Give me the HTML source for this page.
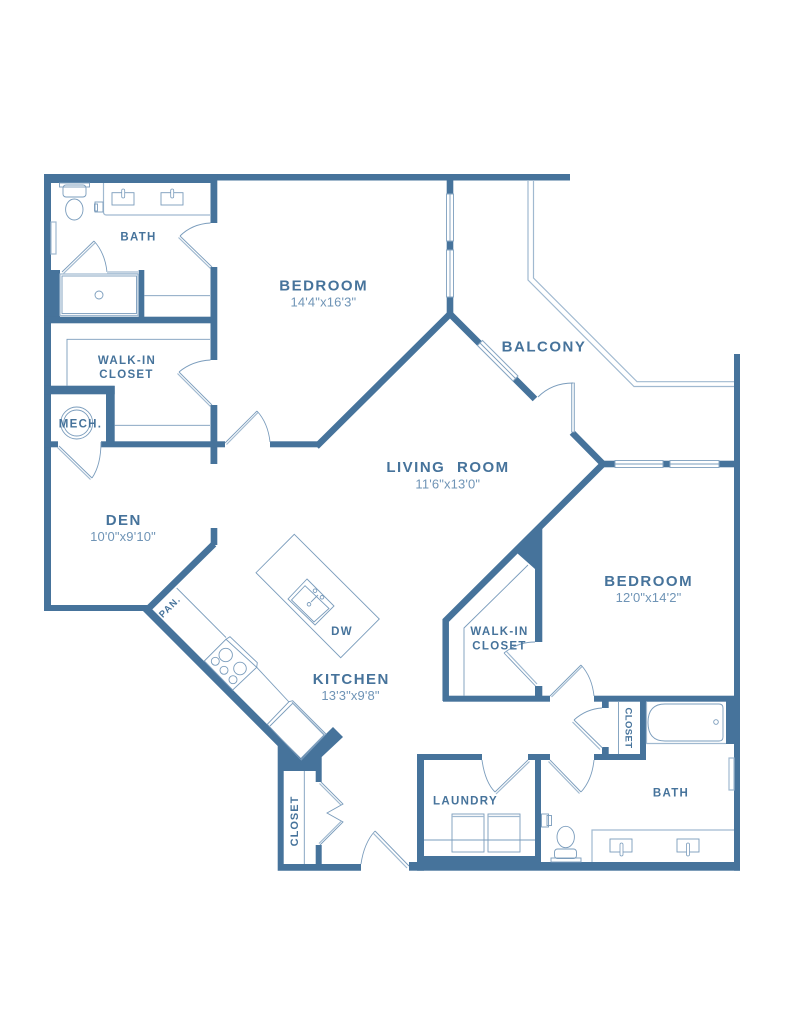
<!DOCTYPE html>
<html><head><meta charset="utf-8"><style>
html,body{margin:0;padding:0;background:#fff}
svg{display:block}
text{font-family:"Liberation Sans",sans-serif;fill:#46739b;text-anchor:middle}
.b{font-weight:bold;font-size:15px;letter-spacing:1.5px}
.s{font-weight:bold;font-size:11.5px;letter-spacing:1.3px}
.d{font-size:13px;letter-spacing:.15px;fill:#6f94b6}
.w{fill:#46739b;stroke:none}
.l{fill:none;stroke:#7a9cbc;stroke-width:.9}
.p{fill:none;stroke:#a0b9d0;stroke-width:1.2}
.dw{fill:none;stroke:#46739b;stroke-width:6.5;stroke-linecap:butt}
.win{fill:#fff;stroke:#8aa8c4;stroke-width:1}
</style></head><body>
<svg width="791" height="1024" viewBox="0 0 791 1024" xmlns="http://www.w3.org/2000/svg">
<!-- main walls -->
<rect class="w" x="44" y="174" width="526" height="6.5"/>
<rect class="w" x="44" y="174" width="173" height="9"/>
<rect class="w" x="44" y="174" width="7" height="437"/>
<rect class="w" x="44" y="605" width="106" height="6"/>
<rect class="w" x="51" y="270" width="9" height="50"/>
<rect class="w" x="44" y="316.7" width="173" height="6.6"/>
<rect class="w" x="138.7" y="270" width="5.6" height="50"/>
<rect class="w" x="210.5" y="174" width="6.8" height="49"/>
<rect class="w" x="210.5" y="267" width="6.8" height="93"/>
<rect class="w" x="210.5" y="405" width="6.8" height="59"/>
<rect class="w" x="44" y="385.7" width="70.7" height="8.6"/>
<rect class="w" x="106" y="386" width="8.7" height="61"/>
<rect class="w" x="44" y="441.3" width="14" height="6"/>
<rect class="w" x="101" y="441.3" width="124" height="6"/>
<rect class="w" x="270" y="441.3" width="49" height="6"/>
<path class="dw" d="M316.5 446.5 L450 314 L535 399"/>
<rect class="w" x="446.7" y="180" width="6.6" height="14"/>
<rect class="w" x="446.7" y="241" width="6.6" height="9"/>
<rect class="w" x="446.7" y="297" width="6.6" height="17"/>
<!-- windows -->
<rect class="win" x="446.5" y="194" width="7" height="47"/><line class="l" x1="450" y1="194" x2="450" y2="241"/>
<rect class="win" x="446.5" y="250" width="7" height="47"/><line class="l" x1="450" y1="250" x2="450" y2="297"/>
<polygon points="482.5,340.5 518,376 513,381 477.5,345.5" fill="#fff" stroke="#8aa8c4"/>
<line class="l" x1="480" y1="343" x2="515.5" y2="378.5"/>
<path class="dw" d="M572 432.5 L603 464 L445.7 620.5 L445.7 701"/>
<rect class="w" x="600" y="460.7" width="15" height="6.6"/>
<rect class="w" x="663" y="460.7" width="7" height="6.6"/>
<rect class="w" x="719" y="460.7" width="17" height="6.6"/>
<rect class="win" x="615" y="460.5" width="48" height="7"/><line class="l" x1="615" y1="464" x2="663" y2="464"/>
<rect class="win" x="670" y="460.5" width="49" height="7"/><line class="l" x1="670" y1="464" x2="719" y2="464"/>
<rect class="w" x="734" y="354" width="6" height="516.7"/>
<!-- balcony rail -->
<path class="p" d="M528 180 V280 L634 386.5 H734"/>
<path class="p" d="M533.5 180 V278 L637 381.7 H734"/>
<!-- balcony door -->
<rect x="571.5" y="383" width="3" height="49" fill="#e3ebf2" stroke="#8aa8c4" stroke-width=".8"/>
<path class="l" d="M538 397 Q552 383 573 383"/>
<!-- den wall -->
<rect class="w" x="210.7" y="528" width="6.6" height="17"/>
<path class="dw" d="M214 544 L148 609"/>
<!-- kitchen diagonal -->
<polygon class="w" points="143,611 149,606 301.3,758.500 333,727 343,737 321.7,757 321.7,782 315.7,782 315.7,771 283.7,771 283.7,864 361,864 361,870.7 277.7,870.7 277.7,746"/>
<rect class="w" x="315.7" y="845" width="6" height="20"/>
<line class="l" x1="304.3" y1="771" x2="304.3" y2="864"/>
<path class="l" d="M321 782 L343 804 L327 813 L343 822 L320 845"/>
<path class="p" d="M319.5 783.5 L341 805"/>
<path class="p" d="M319 843.5 L341 821.5"/>
<!-- front door -->
<path class="l" d="M361 864 Q364 843 375 831"/>
<path class="l" d="M375 831 L409 866"/>
<path class="p" d="M373 833 L407 868"/>
<!-- counters -->
<line class="l" x1="176.7" y1="588" x2="226" y2="637.5"/>
<line class="l" x1="256.7" y1="667.3" x2="289" y2="702"/>
<!-- range -->
<polygon class="l" points="204.3,661 226,639.3 256.7,667.3 232.7,690"/>
<path class="l" d="M226 639.3 L230 636.7 L257.3 662.7 L256.7 667.3"/>
<circle class="l" cx="225.7" cy="655" r="6.7"/>
<circle class="l" cx="240" cy="668.500" r="6.3"/>
<circle class="l" cx="215.3" cy="661.3" r="4"/>
<circle class="l" cx="224" cy="670.3" r="4"/>
<circle class="l" cx="233" cy="679.7" r="4"/>
<!-- fridge -->
<path class="l" d="M267.3 724.3 L289 701.7 L292.7 700.700 L326 734 L301.3 760 Z"/>
<path class="l" d="M270 726 L292.700 703.300 L324 735 L301.3 758"/>
<path class="p" d="M292 702 L325 735"/>
<!-- island -->
<polygon class="l" points="294.3,534.3 379.3,619 340.7,657.7 256,572.7"/>
<polygon class="l" points="307,579 334,606 315,625 288,599"/>
<polygon class="l" points="305,585.7 329,608.5 314,622 291.5,600"/>
<circle class="l" cx="315" cy="590.7" r="1.8"/><circle class="l" cx="322" cy="597.3" r="1.8"/><circle class="l" cx="309" cy="604.3" r="1.8"/>
<line class="l" x1="318" y1="595" x2="311" y2="602"/>
<!-- walk-in closet right -->
<polygon class="w" points="516.7,552.7 542.3,527 542.3,642 535,642 535,569"/>
<rect class="w" x="535" y="686" width="7.3" height="10"/>
<rect class="w" x="443" y="695.7" width="107" height="6"/>
<path class="l" d="M528 565 L464 628 V696"/>
<path class="l" d="M535 642 Q518 642 504 653"/>
<path class="l" d="M504 653 L535.5 686"/><path class="p" d="M506.5 651.5 L537 684"/>
<!-- bedroom door -->
<path class="l" d="M550 696 L581 665"/><path class="p" d="M551.5 697 L582 666.5"/>
<path class="l" d="M581 665 Q592 677 594 696"/>
<!-- bath 2 walls -->
<rect class="w" x="594" y="695.7" width="146" height="6"/>
<rect class="w" x="602" y="701" width="6.7" height="7"/>
<rect class="w" x="602" y="747" width="6.7" height="7"/>
<rect class="w" x="594" y="754" width="52" height="6"/>
<rect class="w" x="640" y="696" width="6" height="64"/>
<rect class="w" x="726" y="701" width="8" height="43"/>
<line class="l" x1="618.5" y1="702" x2="618.5" y2="754"/>
<path class="l" d="M574 720 L602.5 748"/><path class="p" d="M572.5 722 L600 749.5"/>
<path class="l" d="M574 720 Q586 709 602 708"/>
<!-- tub -->
<path class="p" d="M646.500 702 V743.500 H726"/>
<path class="l" d="M665 704 H719 Q723 704 723 708 V737 Q723 741 719 741 H665 Q648 741 648 722.500 Q648 704 665 704 Z"/>
<circle class="l" cx="716" cy="722" r="2.300"/>
<!-- laundry -->
<rect class="w" x="417" y="754" width="7" height="116.700"/>
<rect class="w" x="417" y="754" width="65" height="6"/>
<rect class="w" x="528" y="754" width="22" height="6"/>
<rect class="w" x="535" y="754" width="6" height="110"/>
<rect class="w" x="409" y="862" width="331" height="8.700"/>
<rect class="w" x="417" y="856" width="120" height="8"/>
<path class="l" d="M482 760 Q485 782 495 792"/>
<path class="l" d="M495 792 L528 760"/><path class="p" d="M496 794 L529.500 761.500"/>
<rect class="l" x="452" y="814" width="32" height="38"/><line class="p" x1="452" y1="816.500" x2="484" y2="816.500"/>
<rect class="l" x="488" y="814" width="32" height="38"/><line class="p" x1="488" y1="816.500" x2="520" y2="816.500"/>
<line class="l" x1="424" y1="840" x2="535" y2="840"/>
<!-- bath door 2 -->
<path class="l" d="M550 760 L581 792"/><path class="p" d="M548.500 761.500 L579.500 793.500"/>
<path class="l" d="M581 792 Q592 780 594 760"/>
<!-- bath 2 fixtures -->
<path class="p" d="M592 862 V830 H734"/>
<rect class="l" x="610" y="839" width="22" height="13"/><rect x="620" y="843" width="3" height="13" rx="1.500" fill="#fff" stroke="#7a9cbc" stroke-width=".8"/>
<rect class="l" x="677" y="839" width="22" height="13"/><rect x="686.500" y="843" width="3" height="13" rx="1.500" fill="#fff" stroke="#7a9cbc" stroke-width=".8"/>
<ellipse class="l" cx="565.700" cy="837" rx="8.700" ry="10.700"/>
<rect x="554.500" y="849" width="22" height="9.500" rx="3" fill="#fff" stroke="#7a9cbc" stroke-width=".9"/>
<rect class="l" x="551" y="858" width="30" height="4"/>
<rect class="l" x="541.500" y="814" width="7" height="13"/><rect class="l" x="547" y="815.500" width="4.500" height="10"/>
<rect class="p" x="729" y="758" width="5" height="32"/>
<!-- NW bath fixtures -->
<path class="p" d="M103.500 183 V212 Q103.500 215 106.500 215 H210"/>
<rect class="l" x="112" y="192.700" width="22" height="12.300"/><rect x="121.700" y="189" width="3" height="9" rx="1.500" fill="#fff" stroke="#7a9cbc" stroke-width=".8"/>
<rect class="l" x="161" y="192.700" width="22" height="12.300"/><rect x="170.700" y="189" width="3" height="9" rx="1.500" fill="#fff" stroke="#7a9cbc" stroke-width=".8"/>
<ellipse class="l" cx="74.300" cy="209.500" rx="8.700" ry="10.500"/>
<rect x="63" y="185" width="23" height="12" rx="3" fill="#fff" stroke="#7a9cbc" stroke-width=".9"/>
<rect class="l" x="59.500" y="183" width="30" height="4"/>
<rect class="l" x="95" y="202" width="8" height="10"/><rect class="l" x="94.500" y="204" width="3" height="7"/>
<rect class="p" x="51" y="222" width="5" height="32"/>
<path class="l" d="M62 272 L94 241"/><path class="p" d="M63.500 273.500 L95.500 242.500"/>
<path class="l" d="M94 241 Q105 253 107 272"/>
<rect x="107" y="271" width="32" height="3" fill="#c5d4e2"/>
<rect class="p" x="60" y="274" width="78" height="41.500"/>
<rect class="l" x="62" y="276" width="74.500" height="37.500"/>
<circle class="l" cx="99" cy="295" r="4"/>
<line class="l" x1="144" y1="295.700" x2="210" y2="295.700"/>
<path class="l" d="M180 236 Q192 224 210.500 223"/>
<path class="l" d="M180 236 L212 267"/><path class="p" d="M178.500 237.500 L210.500 268.500"/>
<!-- WIC left -->
<path class="l" d="M67 386 V339.300 H210"/>
<line class="l" x1="114.700" y1="425.300" x2="210" y2="425.300"/>
<path class="l" d="M179 372 Q192 361 210.500 360"/>
<path class="l" d="M179 372 L212 405"/><path class="p" d="M177.500 373.500 L210.500 406.500"/>
<!-- bedroom door 1 -->
<path class="l" d="M225 443 L257 411"/><path class="p" d="M226.500 444.500 L258 412.500"/>
<path class="l" d="M257 411 Q268 423 270 442"/>
<!-- mech -->
<circle class="l" cx="76.700" cy="423" r="16"/><circle class="l" cx="76.700" cy="423" r="13"/>
<path class="l" d="M59 446 L92 478"/><path class="p" d="M57.500 447.500 L90.500 479.500"/>
<path class="l" d="M92 478 Q101 465 101 442"/>
<!-- labels -->
<text class="b" x="323.700" y="290.700">BEDROOM</text>
<text class="d" x="323.400" y="306.500">14'4"x16'3"</text>
<text class="b" x="544" y="351.700">BALCONY</text>
<text class="b" x="448" y="472" style="word-spacing:6px">LIVING ROOM</text>
<text class="d" x="447.800" y="488.300">11'6"x13'0"</text>
<text class="b" x="123.800" y="525">DEN</text>
<text class="d" x="123" y="541">10'0"x9'10"</text>
<text class="b" x="648.700" y="586">BEDROOM</text>
<text class="d" x="648.500" y="602">12'0"x14'2"</text>
<text class="b" x="351.300" y="684">KITCHEN</text>
<text class="d" x="350.500" y="700">13'3"x9'8"</text>
<text class="s" x="138.500" y="240.700">BATH</text>
<text class="s" x="127" y="364">WALK-IN</text>
<text class="s" x="126.500" y="378">CLOSET</text>
<text class="s" x="80.500" y="427.300">MECH.</text>
<text class="s" x="499.500" y="635">WALK-IN</text>
<text class="s" x="499.500" y="649.700">CLOSET</text>
<text class="s" x="465.500" y="804.500">LAUNDRY</text>
<text class="s" x="671" y="796.700">BATH</text>
<text class="s" x="342" y="635">DW</text>
<text class="s" style="font-size:9.500px;letter-spacing:1px" transform="translate(172,609) rotate(-45)">PAN.</text>
<text class="s" style="font-size:11px;letter-spacing:1px" transform="translate(298,821) rotate(-90)">CLOSET</text>
<text class="s" style="font-size:9.500px;letter-spacing:.4px" transform="translate(625.500,728) rotate(90)">CLOSET</text>
</svg>
</body></html>
